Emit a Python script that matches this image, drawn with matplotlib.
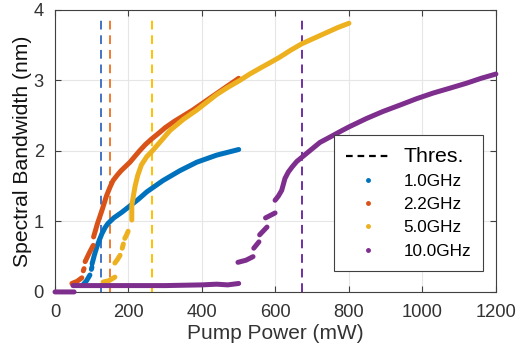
import matplotlib
matplotlib.use("Agg")
import matplotlib.pyplot as plt
import numpy as np
from matplotlib.lines import Line2D

plt.rcParams['font.family'] = ['Liberation Sans', 'DejaVu Sans']

nan = np.nan

# pump power (mW) / bandwidth (nm), nan = gap in the measured trace
x_1g = [76, 86, 95, nan, 99, 100.5, nan, 101, 107, 114, 121, 128, 136, 144, 160, 182, 204,
        226, 250, 272, 294, 317, 340, 363, 386, 413, 440, 470, 500]
y_1g = [0.10, 0.16, 0.24, nan, 0.32, 0.35, nan, 0.40, 0.52, 0.64, 0.74, 0.83, 0.91, 0.97, 1.05,
        1.13, 1.22, 1.31, 1.42, 1.50, 1.58, 1.65, 1.72, 1.78, 1.84, 1.89, 1.94, 1.98, 2.02]

x_2g = [46, 60, 73, nan, 77, 79, nan, 82, 93, 104, nan, 105, 115, 128, 140, 150, 158, 170, 180,
        192, 204, 217, 230, 246, 263, 282, 300, 325, 350, 375, 400, 425, 450, 475, 500]
y_2g = [0.12, 0.15, 0.20, nan, 0.30, 0.33, nan, 0.43, 0.55, 0.66, nan, 0.78, 0.96, 1.16, 1.36,
        1.49, 1.58, 1.66, 1.72, 1.78, 1.84, 1.92, 2.0, 2.09, 2.17, 2.25, 2.33, 2.42, 2.5, 2.58,
        2.67, 2.76, 2.85, 2.94, 3.03]

x_5g = [131, 147, 163, nan, 163, 170, 177, nan, 183, 186, nan, 190, 195, 199, nan, 209, 209, 213,
        218, 225, 235, 250, 265, 290, 313, 350, 386, 413, 440, 470, 503, 530, 557, 585, 612, 642,
        672, 706, 740, 770, 800]
y_5g = [0.14, 0.16, 0.21, nan, 0.41, 0.46, 0.52, nan, 0.62, 0.68, nan, 0.76, 0.81, 0.86, nan, 1.02,
        1.23, 1.35, 1.5, 1.65, 1.8, 1.92, 2.0, 2.15, 2.29, 2.45, 2.58, 2.69, 2.80, 2.90, 3.0, 3.09,
        3.17, 3.25, 3.33, 3.43, 3.52, 3.60, 3.68, 3.75, 3.81]

x_10g = [0, 52, nan, 49, 100, 200, 300, 400, 440, 470, 500, nan, 498, 520, 539, nan, 541, 555, nan,
         557, 577, nan, 573, 599, nan, 599, 608, 617, 626, 635, 645, 658, 672, 686, 700, 721, 739,
         757, 778, 800, 824, 848, 893, 939, 984, 1029, 1075, 1120, 1160, 1200]
y_10g = [0, 0, nan, 0.09, 0.09, 0.09, 0.09, 0.10, 0.11, 0.10, 0.12, nan, 0.42, 0.45, 0.50, nan,
         0.62, 0.71, nan, 0.81, 0.92, nan, 1.05, 1.12, nan, 1.30, 1.36, 1.44, 1.61, 1.70, 1.77,
         1.85, 1.91, 1.97, 2.03, 2.12, 2.17, 2.22, 2.28, 2.34, 2.40, 2.46, 2.56, 2.65, 2.74, 2.82,
         2.89, 2.96, 3.03, 3.09]

labels = ['1.0GHz', '2.2GHz', '5.0GHz', '10.0GHz']
thresholds = [125, 150, 265, 673]
colors = ['#0072BD', '#D95319', '#EDB120', '#7E2F8E']
thres_colors = ['#4472C4', '#ED7D31', '#FFC000', '#7030A0']

fig = plt.figure(figsize=(5.16, 3.53), dpi=100)
ax = fig.add_axes([0.1066, 0.173, 0.8544, 0.799])

series = [(x_1g, y_1g), (x_2g, y_2g), (x_5g, y_5g), (x_10g, y_10g)]
for (xs, ys), c in zip(series, colors):
    ax.plot(xs, ys, color=c, lw=3.6, solid_capstyle='round', solid_joinstyle='round',
            clip_on=False, zorder=3)

for t, c in zip(thresholds, thres_colors):
    ax.plot([t, t], [0, 3.85], color=c, lw=1.4, ls=(0, (4.5, 3)), zorder=2)

ax.set_xlim(0, 1200)
ax.set_ylim(0, 4)
ax.set_xticks(np.arange(0, 1201, 200))
ax.set_yticks(np.arange(0, 5, 1))
ax.grid(True, color='#e6e6e6', lw=0.8)
ax.set_axisbelow(True)
ax.tick_params(direction='in', length=4, width=0.8, colors='#404040', labelsize=13.2,
               top=True, right=True, labelcolor='#333333')
ax.tick_params(axis='x', pad=9)
ax.tick_params(axis='y', pad=8)
for s in ax.spines.values():
    s.set_color('#404040')
    s.set_linewidth(0.8)

ax.set_xlabel('Pump Power (mW)', fontsize=15, color='#333333', labelpad=2)
ax.set_ylabel('Spectral Bandwidth (nm)', fontsize=15.2, color='#111111', labelpad=1)

handles = [Line2D([], [], color='black', ls=(0, (3, 2.2)), lw=1.6)]
for c in colors:
    handles.append(Line2D([], [], color=c, marker='o', ms=2.5, ls='none'))
leg = ax.legend(handles, ['Thres.'] + labels, loc='upper left', bbox_to_anchor=(0.633, 0.557),
                fontsize=12.3, handlelength=2.6, handletextpad=0.75, labelspacing=0.48,
                fancybox=False, framealpha=1, edgecolor='#404040', borderpad=0.7,
                borderaxespad=0.0)
leg.get_frame().set_linewidth(0.8)
leg.get_texts()[0].set_fontsize(15.3)
for t in leg.get_texts():
    t.set_color('black')

fig.savefig('out.png', dpi=100)
